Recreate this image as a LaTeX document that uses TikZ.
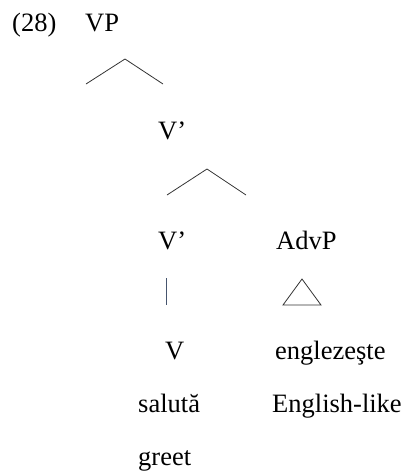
\documentclass[tikz,border=0pt]{standalone}
\usepackage{fontspec}
\setmainfont{Liberation Serif}
\definecolor{barcol}{RGB}{70,85,110}
\begin{document}
\begin{tikzpicture}[x=1pt,y=-1pt,
  lbl/.style={anchor=base west,inner sep=0pt,font=\fontsize{26.5}{31}\selectfont},
  branch/.style={line width=0.8pt,draw=black!80}]
\useasboundingbox (0,0) rectangle (405,472);
\node[lbl] (num) at (12,31) {(28)};
\node[lbl] (vp) at (85,31) {VP};
\coordinate (a1) at (125,59);
\coordinate (l1) at (86,84);
\coordinate (r1) at (163,84);
\draw[branch] (l1) -- (a1) -- (r1);
\node[lbl] (vbar1) at (158,139) {V’};
\coordinate (a2) at (207,169);
\coordinate (l2) at (167,195);
\coordinate (r2) at (246,195);
\draw[branch] (l2) -- (a2) -- (r2);
\node[lbl] (vbar2) at (158,249) {V’};
\node[lbl] (advp) at (276,249) {AdvP};
\coordinate (t1) at (166,278);
\coordinate (t2) at (166,305);
\draw[branch,draw=barcol] (t1) -- (t2);
\coordinate (ta) at (302,279);
\coordinate (tl) at (283,305);
\coordinate (tr) at (321,305);
\draw[branch] (ta) -- (tl) -- (tr) -- cycle;
\node[lbl] (v) at (165,359) {V};
\node[lbl] (engl) at (275,359) {englezeşte};
\node[lbl] (sal) at (138,412) {salută};
\node[lbl] (engglos) at (272,412) {English-like};
\node[lbl] (greet) at (138,465) {greet};
\end{tikzpicture}
\end{document}
